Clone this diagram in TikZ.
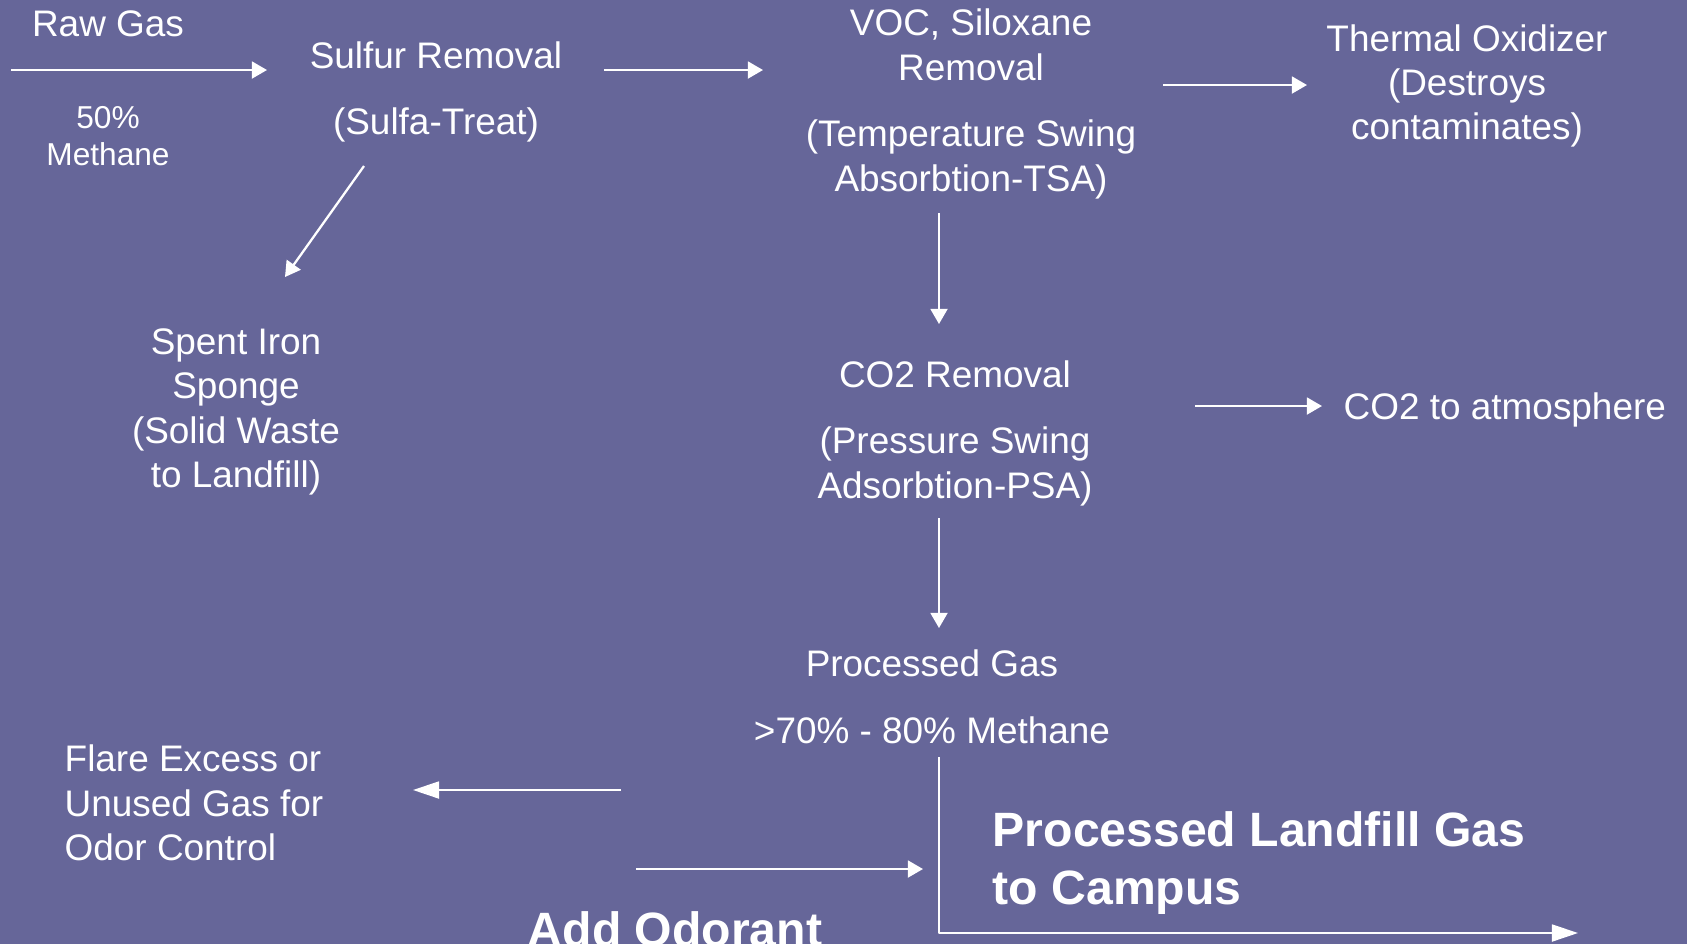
\documentclass[tikz,border=0pt]{standalone}
\usepackage{fontspec}
\setmainfont{Liberation Sans}
\usetikzlibrary{arrows.meta}
\definecolor{slate}{RGB}{102,102,153}

\begin{document}
\begin{tikzpicture}[
    x=0.01cm, y=-0.01cm,
    line join=round,
    txt/.style={text=white, inner sep=0pt, align=center,
        font=\fontsize{10.5}{12.6}\selectfont},
    smalltxt/.style={txt, font=\fontsize{9}{10.7}\selectfont},
    bigtxt/.style={txt, align=left, font=\fontsize{13.7}{16.5}\selectfont\bfseries},
    flow/.style={white, line width=0.65pt, -{Triangle[length=4.3pt, width=4.8pt]}},
    longflow/.style={flow, -{Triangle[length=7.4pt, width=4.8pt]}}
]

% Sfondo
\fill[slate] (0,0) rectangle (1687,944);
\useasboundingbox (0,0) rectangle (1687,944);

% Testi
\node[txt] (rawgas) at (108,24) {Raw Gas};
\node[smalltxt] (methane) at (108,136) {50\%\\Methane};
\node[txt] (sulfur) at (436,92) {Sulfur Removal\\[6.4pt](Sulfa-Treat)};
\node[txt] (voc) at (971,104) {VOC, Siloxane\\Removal\\[6.4pt](Temperature Swing\\Absorbtion-TSA)};
\node[txt] (thermal) at (1467,86) {Thermal Oxidizer\\(Destroys\\contaminates)};
\node[txt] (spent) at (236,412) {Spent Iron\\Sponge\\(Solid Waste\\to Landfill)};
\node[txt] (co2) at (955,433) {CO2 Removal\\[6.4pt](Pressure Swing\\Adsorbtion-PSA)};
\node[txt, anchor=west] (atmo) at (1343,410) {CO2 to atmosphere};
\node[txt] (processed) at (932,697) {Processed Gas\\[6.4pt]>70\% - 80\% Methane};
\node[txt, align=left, anchor=west] (flare) at (64,803) {Flare Excess or\\Unused Gas for\\Odor Control};
\node[bigtxt, anchor=west] (campus) at (992,863) {Processed Landfill Gas\\to Campus};
\node[bigtxt, anchor=base] (odorant) at (675,946) {Add Odorant};

% Estremi delle frecce
\coordinate (raw-a) at (11,70);    \coordinate (raw-b) at (267,70);
\coordinate (sul-a) at (604,70);   \coordinate (sul-b) at (763,70);
\coordinate (voc-a) at (1163,85);  \coordinate (voc-b) at (1307,85);
\coordinate (spn-a) at (364,166);  \coordinate (spn-b) at (285,277);
\coordinate (dn1-a) at (939,213);  \coordinate (dn1-b) at (939,324);
\coordinate (atm-a) at (1195,406); \coordinate (atm-b) at (1322,406);
\coordinate (dn2-a) at (939,518);  \coordinate (dn2-b) at (939,628);
\coordinate (flr-a) at (621,790);  \coordinate (flr-b) at (413,790);
\coordinate (odr-a) at (636,869);  \coordinate (odr-b) at (923,869);
\coordinate (cmp-a) at (939,757);  \coordinate (cmp-c) at (939,933);
\coordinate (cmp-b) at (1578,933);

% Frecce
\draw[flow] (raw-a) -- (raw-b);
\draw[flow] (sul-a) -- (sul-b);
\draw[flow] (voc-a) -- (voc-b);
\draw[flow] (spn-a) -- (spn-b);
\draw[flow] (dn1-a) -- (dn1-b);
\draw[flow] (atm-a) -- (atm-b);
\draw[flow] (dn2-a) -- (dn2-b);
\draw[longflow] (flr-a) -- (flr-b);
\draw[flow] (odr-a) -- (odr-b);
\draw[longflow] (cmp-a) -- (cmp-c) -- (cmp-b);

\end{tikzpicture}
\end{document}
